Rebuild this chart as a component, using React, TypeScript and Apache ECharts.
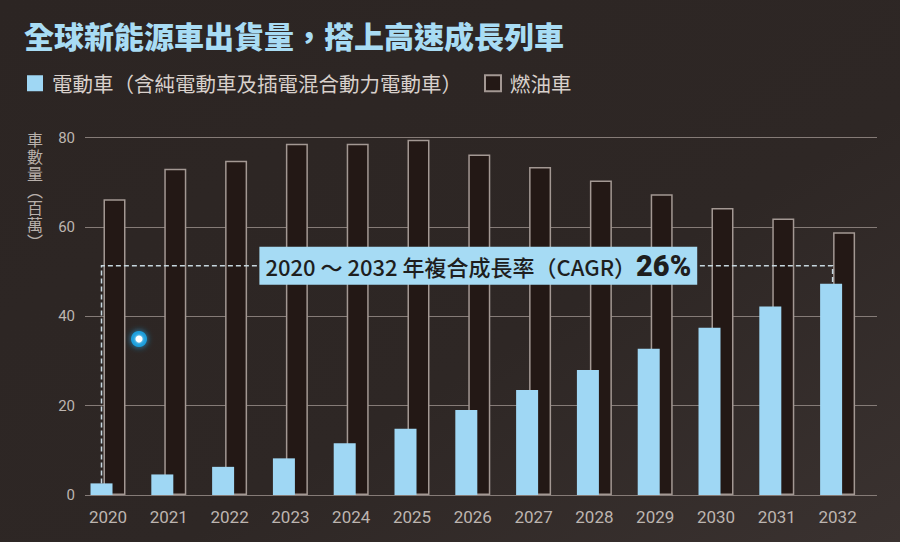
import React, { useEffect, useRef } from "react";
import * as echarts from "echarts";

const titleText = "全球新能源車出貨量，搭上高速成長列車";
const evName = "電動車（含純電動車及插電混合動力電動車）";
const fuelName = "燃油車";
const yAxisTitle = ["車", "數", "量", "︵", "百", "萬", "︶"];
const years = ["2020", "2021", "2022", "2023", "2024", "2025", "2026", "2027", "2028", "2029", "2030", "2031", "2032"];
const evValues = [2.6, 4.6, 6.3, 8.2, 11.6, 14.8, 19.0, 23.5, 28.0, 32.7, 37.4, 42.2, 47.3];
const fuelValues = [66.2, 73.0, 74.8, 78.6, 78.6, 79.5, 76.2, 73.4, 70.4, 67.3, 64.2, 61.9, 58.8];
const yMin = 0;
const yMax = 80;
const yInterval = 20;
const cagrLevel = 51.3;
const cagrText = "2020 ～ 2032 年複合成長率（CAGR）";
const cagrValue = "26%";

const BAR_W = 22;
const BAR_GAP = -0.41;
const CJK = "'Noto Sans CJK TC', 'Noto Sans CJK SC', sans-serif";

export default function App() {
  const ref = useRef<HTMLDivElement>(null);
  useEffect(() => {
    if (!ref.current) return;
    const chart = echarts.init(ref.current, null, { renderer: "svg" });
    const evOffset = -(BAR_W * (1 + BAR_GAP)) / 2;
    const gridTop = 137.5;
    const gridBottom = 47;
    chart.setOption({
      animation: false,
      backgroundColor: {
        type: "linear",
        x: 0,
        y: 0,
        x2: 1,
        y2: 1,
        colorStops: [
          { offset: 0, color: "#2c2523" },
          { offset: 0.6, color: "#2e2725" },
          { offset: 1, color: "#3a3230" },
        ],
      },
      title: {
        text: titleText,
        left: 24,
        top: 20,
        padding: 0,
        textStyle: { color: "#a8dcf4", fontSize: 30, fontWeight: 900, fontFamily: CJK },
      },
      legend: {
        left: 27,
        top: 73,
        padding: 0,
        itemWidth: 16,
        itemHeight: 16,
        itemGap: 22,
        icon: "rect",
        data: [evName, fuelName],
        textStyle: { color: "#d8d0cb", fontSize: 20.5, fontFamily: CJK, padding: [0, 0, 0, 4] },
      },
      graphic: [
        ...yAxisTitle.map((ch, i) => ({
          type: "text",
          left: 27,
          top: 131 + i * 17,
          style: {
            text: ch,
            fill: "#b8b0ab",
            fontSize: 16,
            lineHeight: 16,
            fontFamily: "Noto Sans CJK TC",
          },
        })),
        {
          type: "circle",
          shape: { cx: 139, cy: 339, r: 8 },
          style: { fill: "#1b9edc", shadowBlur: 6, shadowColor: "rgba(40,170,240,0.8)" },
          z: 10,
        },
        {
          type: "circle",
          shape: { cx: 139, cy: 339, r: 3.5 },
          style: { fill: "#ffffff", shadowBlur: 3, shadowColor: "rgba(255,255,255,0.9)" },
          z: 11,
        },
      ],
      grid: [
        { left: 85, right: 23, top: gridTop, bottom: gridBottom },
        { left: 77.6, right: 32, top: gridTop, bottom: gridBottom },
      ],
      xAxis: [
        { type: "value", gridIndex: 0, show: false, min: 0, max: 1 },
        {
          type: "category",
          gridIndex: 1,
          data: years,
          axisLine: { show: false },
          axisTick: { show: false },
          axisLabel: { color: "#bdb5b0", fontSize: 17, fontFamily: "Roboto", margin: 13 },
        },
      ],
      yAxis: [
        {
          type: "value",
          gridIndex: 0,
          min: yMin,
          max: yMax,
          interval: yInterval,
          axisLine: { show: false },
          axisTick: { show: false },
          axisLabel: { color: "#bdb5b0", fontSize: 15, fontFamily: "Roboto", margin: 10 },
          splitLine: { lineStyle: { color: "#857b77", width: 1 } },
        },
        {
          type: "value",
          gridIndex: 1,
          min: yMin,
          max: yMax,
          interval: yInterval,
          show: false,
          splitLine: { show: false },
        },
      ],
      series: [
        {
          name: evName,
          type: "bar",
          xAxisIndex: 1,
          yAxisIndex: 1,
          data: evValues,
          barWidth: BAR_W,
          barGap: `${BAR_GAP * 100}%`,
          itemStyle: { color: "#9fd7f4" },
          z: 3,
        },
        {
          name: fuelName,
          type: "bar",
          xAxisIndex: 1,
          yAxisIndex: 1,
          data: fuelValues,
          barWidth: BAR_W,
          itemStyle: { color: "#231815", borderColor: "#a39893", borderWidth: 1.5 },
          z: 2,
        },
        {
          type: "custom",
          xAxisIndex: 1,
          yAxisIndex: 1,
          z: 5,
          silent: true,
          data: [[0, years.length - 1]],
          renderItem: (params: any, api: any) => {
            const i0 = api.value(0);
            const i1 = api.value(1);
            const a = api.coord([i0, evValues[i0]]);
            const b = api.coord([i0, cagrLevel]);
            const c = api.coord([i1, cagrLevel]);
            const d = api.coord([i1, evValues[i1]]);
            const mid = api.coord([6, cagrLevel]);
            return {
              type: "group",
              children: [
                {
                  type: "polyline",
                  shape: {
                    points: [
                      [a[0] + evOffset, a[1]],
                      [b[0] + evOffset, b[1]],
                      [c[0] + evOffset + 1.5, c[1]],
                      [d[0] + evOffset + 1.5, d[1]],
                    ],
                  },
                  style: { stroke: "#c6d6de", lineWidth: 1.5, lineDash: [5, 3], fill: null },
                },
                {
                  type: "text",
                  x: mid[0] + 5.5,
                  y: b[1],
                  style: {
                    text: `{a|${cagrText}}{b|${cagrValue}}`,
                    align: "center",
                    verticalAlign: "middle",
                    backgroundColor: "#a6dbf4",
                    padding: [3, 6, 3, 6],
                    fill: "#1e1e1e",
                    rich: {
                      a: { fontSize: 22, fontWeight: 500, fontFamily: CJK, fill: "#1e1e1e", color: "#1e1e1e", lineHeight: 32 },
                      b: { fontSize: 29, fontWeight: 900, fontFamily: "Roboto", fill: "#1e1e1e", color: "#1e1e1e", lineHeight: 32 },
                    },
                  },
                },
              ],
            };
          },
        },
      ],
    });
    return () => chart.dispose();
  }, []);
  return <div ref={ref} style={{ position: "fixed", left: 0, top: 0, width: 900, height: 542 }} />;
}
